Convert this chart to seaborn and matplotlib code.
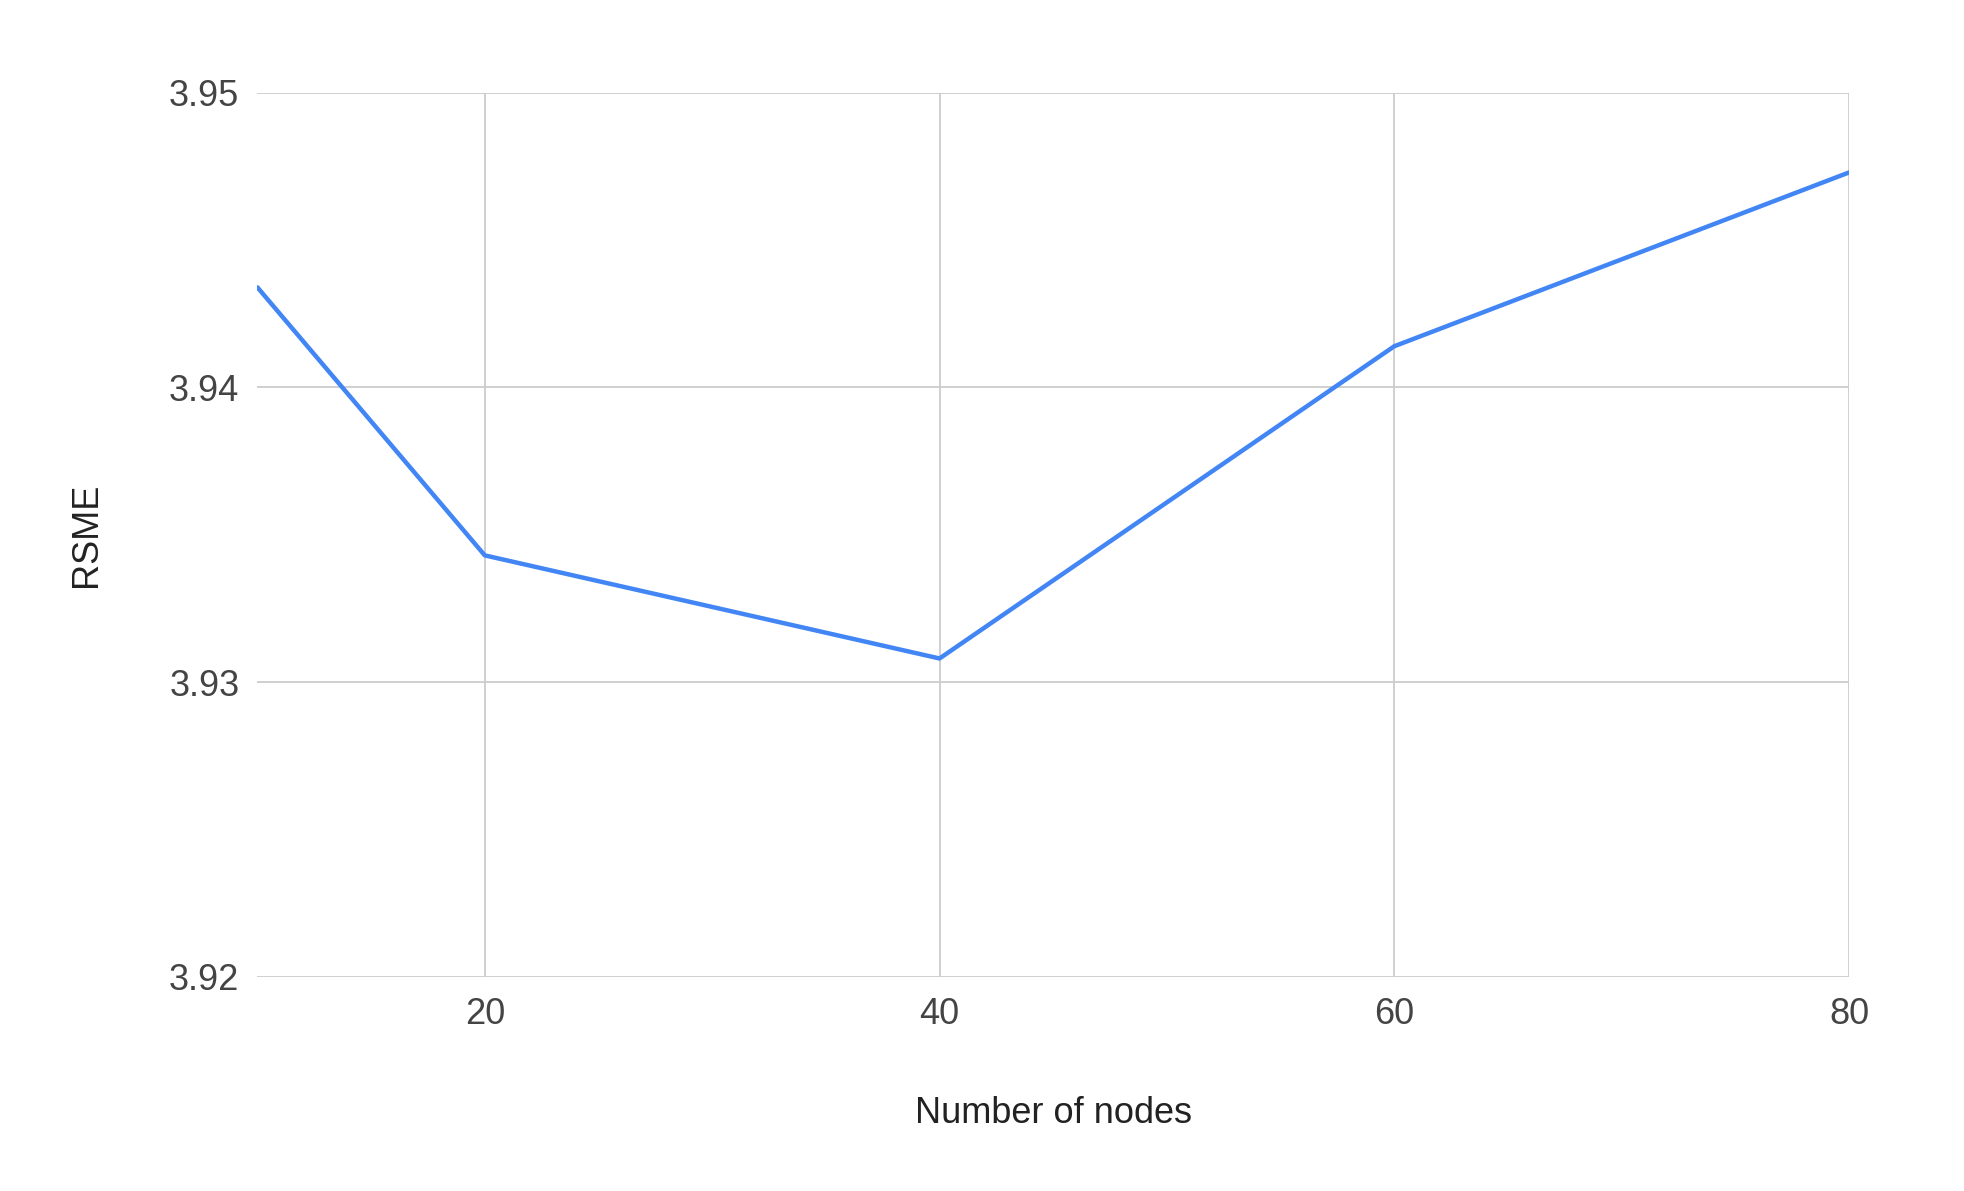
import pandas as pd
import seaborn as sns
import matplotlib.pyplot as plt
plt.switch_backend('agg')

# values
nodes = [10, 20, 40, 60, 80]
rsme = [3.9434, 3.9343, 3.9308, 3.9414, 3.9473]
y_ticks = [3.92, 3.93, 3.94, 3.95]
x_ticks = [20, 40, 60, 80]

sns.set_style('whitegrid')
plt.rcParams['font.family'] = ['Liberation Sans', 'DejaVu Sans']

df = pd.DataFrame({'Number of nodes': nodes, 'RSME': rsme})

fig = plt.figure(figsize=(19.65, 11.91), dpi=100)
ax = fig.add_axes([0.131, 0.180, 0.810, 0.742])
sns.lineplot(data=df, x='Number of nodes', y='RSME', ax=ax,
             color='#4285F4', linewidth=3.2)

ax.set_xlim(10, 80)
ax.set_ylim(3.92, 3.95)
ax.set_xticks(x_ticks)
ax.set_yticks(y_ticks)
ax.set_yticklabels(['%.2f' % v for v in y_ticks])
ax.grid(True, color='#cccccc', linewidth=1.3)
for s in ax.spines.values():
    s.set_visible(False)
ax.tick_params(axis='both', length=0, labelsize=26, labelcolor='#444444')
ax.tick_params(axis='y', pad=13)
ax.tick_params(axis='x', pad=15)
ax.set_xlabel('Number of nodes', fontsize=26, color='#222222', labelpad=46)
ax.set_ylabel('RSME', fontsize=26, color='#222222', labelpad=47)

plt.savefig('out.png', format='png', dpi=100)
